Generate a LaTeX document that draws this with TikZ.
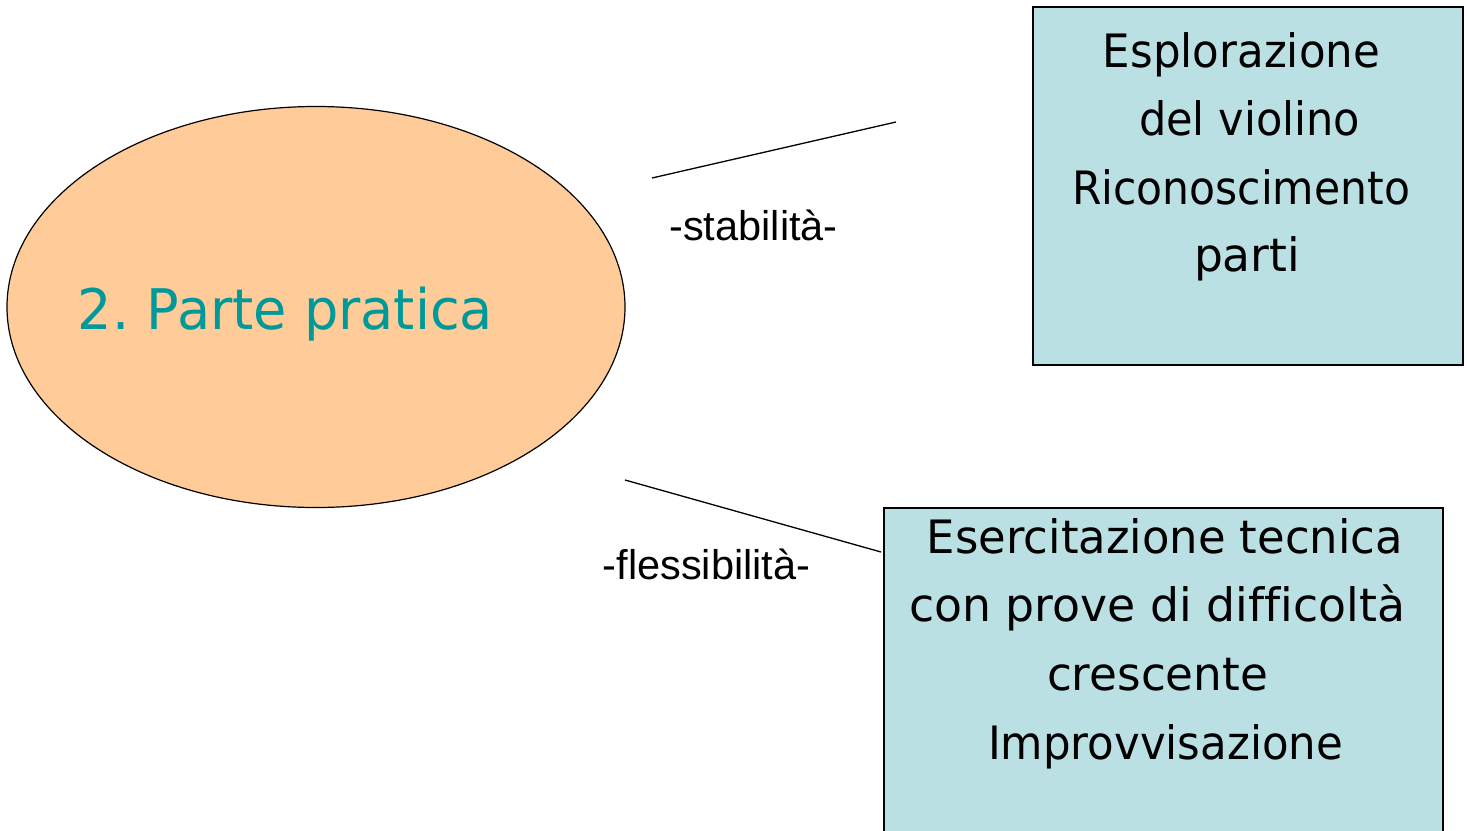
\documentclass[tikz,border=0pt]{standalone}
\usepackage{fontspec}
\setmainfont{DejaVu Sans}[Ligatures=CommonOff]
\newfontfamily\arialfont{Liberation Sans}
\usetikzlibrary{shapes.geometric}
\definecolor{peach}{HTML}{FFCC99}
\definecolor{tealtxt}{HTML}{009999}
\definecolor{boxblue}{HTML}{BBE0E3}
\newcommand{\fw}[2]{\resizebox{#1pt}{\height}{#2}}
\tikzset{
  oval/.style={ellipse, draw=black, line width=1.2pt, fill=peach, inner sep=0pt},
  infobox/.style={rectangle, draw=black, line width=1.6pt, fill=boxblue, inner sep=0pt},
  boxline/.style={anchor=base, inner sep=0pt, font=\fontsize{46}{54}\selectfont},
  title/.style={anchor=base, inner sep=0pt, text=tealtxt, font=\fontsize{56}{64}\selectfont},
  lbl/.style={anchor=base, inner sep=0pt, font=\arialfont\fontsize{41.5}{48}\selectfont},
  conn/.style={line width=1.3pt}
}
\begin{document}
\begin{tikzpicture}[x=1pt,y=-1pt]
\useasboundingbox (0,0) rectangle (1467,830);
\clip (0,0) rectangle (1467,830);
\fill[white] (0,0) rectangle (1467,830);
\node[oval, minimum width=618pt, minimum height=401pt] (e) at (316,307) {};
\node[title] (t) at (285.5,329) {\fw{415}{2.\ Parte pratica}};
\node[infobox, minimum width=430pt, minimum height=358pt] (b1) at (1248,186) {};
\node[boxline] (b1a) at (1241.5,67) {\fw{277}{Esplorazione}};
\node[boxline] (b1b) at (1249.5,135) {\fw{221}{del violino}};
\node[boxline] (b1c) at (1241,204) {\fw{338}{Riconoscimento}};
\node[boxline] (b1d) at (1247,271) {\fw{106}{parti}};
\node[infobox, minimum width=559pt, minimum height=340pt] (b2) at (1163.5,678) {};
\node[boxline] (b2a) at (1165,553) {\fw{476}{Esercitazione tecnica}};
\node[boxline] (b2b) at (1157,621) {\fw{496}{con prove di difficoltà}};
\node[boxline] (b2c) at (1157.5,690) {\fw{221}{crescente}};
\node[boxline] (b2d) at (1165.5,759) {\fw{355}{Improvvisazione}};
\coordinate (s1) at (652,178);
\coordinate (s2) at (896,122);
\coordinate (f1) at (625,480);
\coordinate (f2) at (881,552);
\draw[conn] (s1) -- (s2);
\draw[conn] (f1) -- (f2);
\node[lbl] (ls) at (753.5,240) {-stabilità-};
\node[lbl] (lf) at (706.5,579) {-flessibilità-};
\end{tikzpicture}
\end{document}
